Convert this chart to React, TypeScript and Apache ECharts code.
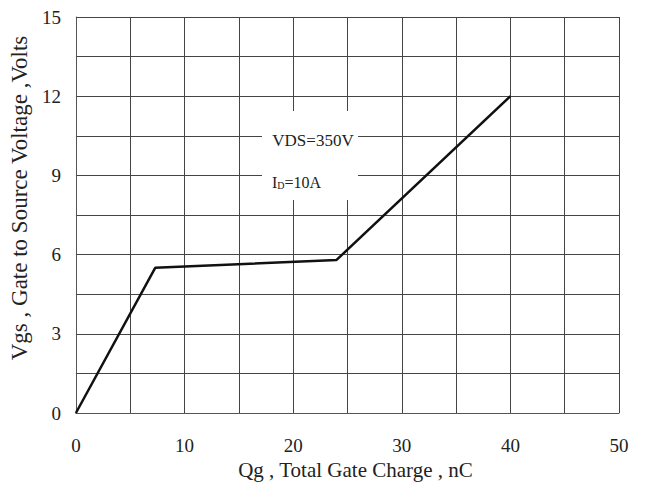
import React, { useEffect, useRef } from "react";
import * as echarts from "echarts";

const qg = [0, 7.3, 24, 40];
const vgs = [0, 5.5, 5.8, 12];
const xTickLabels = [0, 10, 20, 30, 40, 50];
const yTickLabels = [0, 3, 6, 9, 12, 15];

const FONT = "Liberation Serif";

export default function App() {
  const ref = useRef<HTMLDivElement>(null);
  useEffect(() => {
    const chart = echarts.init(ref.current!, null, { renderer: "svg" });
    chart.setOption({
      animation: false,
      backgroundColor: "#fff",
      grid: { left: 75, right: 30, top: 17, bottom: 73 },
      xAxis: {
        type: "value",
        min: 0,
        max: 50,
        interval: 5,
        name: "Qg , Total Gate Charge , nC",
        nameLocation: "middle",
        nameGap: 43,
        nameTextStyle: { fontFamily: FONT, fontSize: 21, color: "#222", padding: [0, 0, 0, 16] },
        axisLine: { show: true, lineStyle: { color: "#555", width: 1 } },
        axisTick: { show: false },
        axisLabel: {
          margin: 23,
          fontFamily: FONT,
          fontSize: 19,
          color: "#222",
          formatter: (v: number) => (xTickLabels.includes(v) ? String(v) : ""),
        },
        splitLine: { show: true, lineStyle: { color: "#444", width: 1 } },
      },
      yAxis: {
        type: "value",
        min: 0,
        max: 15,
        interval: 1.5,
        name: "Vgs , Gate to Source Voltage ,Volts",
        nameLocation: "middle",
        nameGap: 37,
        nameTextStyle: { fontFamily: FONT, fontSize: 23, color: "#222", padding: [0, 0, 0, 34] },
        axisLine: { show: true, lineStyle: { color: "#555", width: 1 } },
        axisTick: { show: false },
        axisLabel: {
          margin: 15,
          fontFamily: FONT,
          fontSize: 19,
          color: "#222",
          formatter: (v: number) =>
            yTickLabels.some((t) => Math.abs(t - v) < 1e-6) ? String(Math.round(v)) : "",
        },
        splitLine: { show: true, lineStyle: { color: "#444", width: 1 } },
      },
      series: [
        {
          type: "line",
          data: qg.map((x, i) => [x, vgs[i]]),
          showSymbol: false,
          lineStyle: { color: "#111", width: 2.5 },
          z: 3,
        },
      ],
      graphic: [
        {
          type: "rect",
          shape: { x: 262, y: 111, width: 96, height: 89 },
          style: { fill: "#fff" },
          z: 10,
        },
        {
          type: "text",
          x: 313,
          y: 140,
          style: {
            text: "VDS=350V",
            fontFamily: FONT,
            fontSize: 17,
            fill: "#222",
            align: "center",
            verticalAlign: "middle",
          },
          z: 11,
        },
        {
          type: "text",
          x: 272,
          y: 182,
          style: {
            text: "I{sub|D}=10A",
            fontFamily: FONT,
            fontSize: 16,
            fill: "#222",
            align: "left",
            verticalAlign: "middle",
            rich: {
              sub: { fontFamily: FONT, fontSize: 10, fill: "#222", padding: [7, 0, 0, 0] },
            },
          },
          z: 11,
        },
      ],
    });
    return () => chart.dispose();
  }, []);
  return (
    <div
      ref={ref}
      style={{ position: "absolute", left: 0, top: 0, width: 649, height: 486 }}
    />
  );
}
